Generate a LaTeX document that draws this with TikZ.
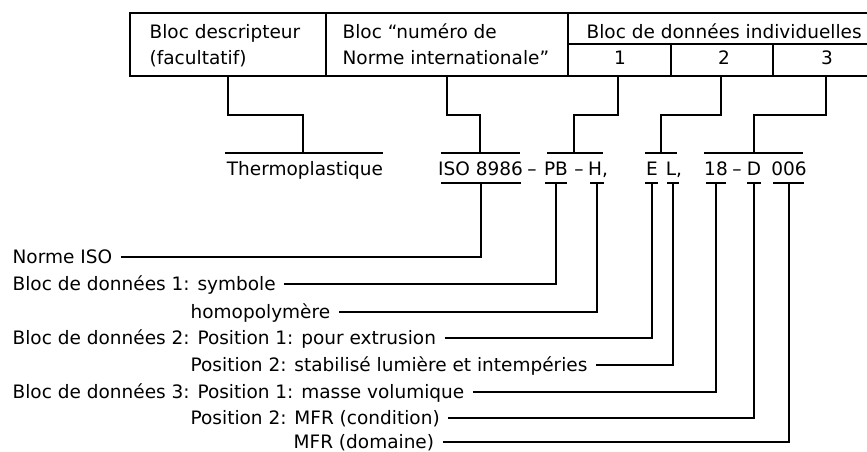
\documentclass[tikz,border=0pt]{standalone}
\usepackage{fontspec}
\setmainfont{DejaVu Sans}
\begin{document}
\begin{tikzpicture}[x=1pt,y=-1pt,line width=1.3pt,
  txt/.style={inner sep=0pt,font=\fontsize{18.5}{20}\selectfont},
  lab/.style={txt,anchor=west,text height=13.5pt,text depth=0pt},
  hd/.style={txt,anchor=base west},
  num/.style={txt,anchor=base},
  code/.style={txt,anchor=base}]
\useasboundingbox (0,0) rectangle (867,452);
% table
\draw (867,13) -- (130,13) -- (130,76) -- (867,76);
\draw (326,13) -- (326,76);
\draw (568,13) -- (568,76);
\draw (568,44) -- (867,44);
\draw (671,44) -- (671,76);
\draw (773,44) -- (773,76);
\node[hd] (hdesc1) at (149,38) {Bloc descripteur};
\node[hd] (hdesc2) at (149,65) {(facultatif)};
\node[hd] (hnum1) at (342,38) {Bloc “numéro de};
\node[hd] (hnum2) at (342,65) {Norme internationale”};
\node[hd] (hind) at (586,39) {Bloc de données individuelles};
\node[num] (h1) at (620,65) {1};
\node[num] (h2) at (724,65) {2};
\node[num] (h3) at (827,65) {3};
% table connectors
\coordinate (tdesc) at (228,76);
\coordinate (tnum) at (447,76);
\coordinate (t1) at (618,76);
\coordinate (t2) at (721,76);
\coordinate (t3) at (826,76);
\coordinate (udesc) at (303,153);
\coordinate (unum) at (480,153);
\coordinate (u1) at (574,153);
\coordinate (u2) at (661,153);
\coordinate (u3) at (754,153);
\draw (tdesc) |- (udesc |- 0,115) -- (udesc);
\draw (tnum) |- (unum |- 0,115) -- (unum);
\draw (t1) |- (u1 |- 0,115) -- (u1);
\draw (t2) |- (u2 |- 0,115) -- (u2);
\draw (t3) |- (u3 |- 0,115) -- (u3);
% upper bars
\draw (225,153) -- (383,153);
\draw (441,153) -- (520,153);
\draw (547,153) -- (603,153);
\draw (645,153) -- (677,153);
\draw (704,153) -- (803,153);
% designation
\node[code] (therm) at (305,175) {Thermoplastique};
\node[code] (iso) at (480.5,175) {ISO 8986};
\node[code] (da) at (532,175) {–};
\node[code] (pb) at (556,175) {PB};
\node[code] (db) at (579,175) {–};
\node[code] (h) at (598,175) {H,};
\node[code] (e) at (652,175) {E};
\node[code] (l) at (674,175) {L,};
\node[code] (n18) at (716,175) {18};
\node[code] (dc) at (737,175) {–};
\node[code] (d) at (754,175) {D};
\node[code] (n006) at (789,175) {006};
% lower bars
\draw (441,183) -- (521,183);
\draw (545,183) -- (567,183);
\draw (590,183) -- (604,183);
\draw (645,183) -- (658,183);
\draw (667,183) -- (679,183);
\draw (706,183) -- (726,183);
\draw (747,183) -- (761,183);
\draw (773,183) -- (804,183);
\coordinate (biso) at (481,183);
\coordinate (bpb) at (556,183);
\coordinate (bh) at (597,183);
\coordinate (be) at (652,183);
\coordinate (bl) at (673,183);
\coordinate (b18) at (716,183);
\coordinate (bd) at (754,183);
\coordinate (b006) at (789,183);
% labels
\node[lab] (l1) at (12,257) {Norme ISO};
\node[lab] (l2) at (12,284) {Bloc de données 1: symbole};
\node[lab] (l3) at (190,312) {homopolymère};
\node[lab] (l4) at (12,338) {Bloc de données 2: Position 1: pour extrusion};
\node[lab] (l5) at (190,365) {Position 2: stabilisé lumière et intempéries};
\node[lab] (l6) at (12,392) {Bloc de données 3: Position 1: masse volumique};
\node[lab] (l7) at (190,418) {Position 2: MFR (condition)};
\node[lab] (l8) at (293,442) {MFR (domaine)};
\draw ([xshift=8pt]l1.east) -| (biso);
\draw ([xshift=8pt]l2.east) -| (bpb);
\draw ([xshift=8pt]l3.east) -| (bh);
\draw ([xshift=8pt]l4.east) -| (be);
\draw ([xshift=8pt]l5.east) -| (bl);
\draw ([xshift=8pt]l6.east) -| (b18);
\draw ([xshift=8pt]l7.east) -| (bd);
\draw ([xshift=8pt]l8.east) -| (b006);
\end{tikzpicture}
\end{document}
